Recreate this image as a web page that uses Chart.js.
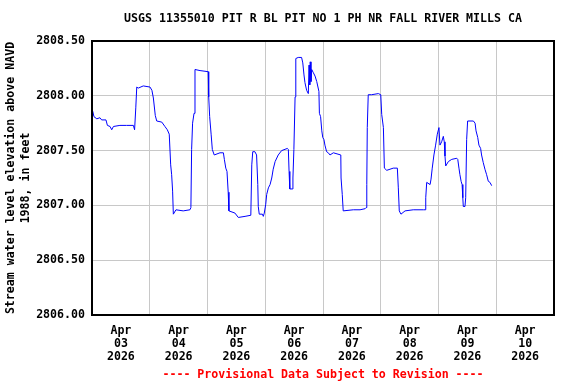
<!DOCTYPE html>
<html>
<head>
<meta charset="utf-8">
<script src="https://cdn.jsdelivr.net/npm/chart.js@4.4.1/dist/chart.umd.min.js"></script>
<style>
  body { margin: 0; background: #fff; }
  canvas { display: block; }
</style>
</head>
<body>
<canvas id="grafico" width="576" height="384"></canvas>
<script>
// Dados (horas desde 03/abr 00:00, nível em pés)
const horas = [
  0.3, 0.8, 2.0, 3.3, 4.0, 5.8, 6.4, 7.5, 8.2, 8.9, 11.6, 14.4, 17.2, 17.7, 18.2, 18.6, 19.2, 21.3, 24.1, 24.9,
  25.5, 26.3, 26.9, 29.0, 30.3, 31.3, 32.1, 32.7, 33.1, 33.5, 33.8, 34.9, 37.9, 40.7, 41.1, 41.4, 41.8, 42.4, 42.8, 44.9,
  48.3, 48.5, 48.9, 49.5, 50.0, 50.8, 53.2, 54.6, 55.0, 55.6, 56.1, 56.6, 56.9, 59.4, 60.8, 63.6, 66.0, 66.4, 66.8, 67.7,
  68.4, 68.9, 69.1, 69.5, 70.8, 71.2, 71.6, 72.2, 72.6, 73.3, 74.0, 74.7, 75.3, 76.1, 77.4, 78.8, 81.2, 81.6, 81.9, 82.2,
  83.2, 83.5, 83.9, 84.4, 84.7, 85.7, 87.1, 87.6, 88.1, 88.5, 89.2, 89.9, 90.2, 90.5, 90.7, 91.0, 91.3, 92.0, 92.7, 93.4,
  94.3, 94.5, 95.0, 95.5, 95.9, 96.4, 96.8, 97.5, 98.2, 98.9, 100.3, 103.4, 103.5, 104.0, 104.4, 108.6, 111.4, 113.5, 113.9, 114.2,
  114.4, 114.8, 116.2, 119.0, 120.0, 120.4, 121.1, 121.5, 122.5, 125.2, 126.9, 127.3, 127.7, 128.4, 130.1, 133.5, 137.7, 138.4, 138.7, 139.1,
  140.5, 140.9, 141.4, 142.1, 142.8, 143.5, 144.2, 144.6, 145.3, 146.0, 146.4, 146.7, 147.0, 148.1, 149.5, 151.6, 152.0, 152.5, 152.9, 153.4,
  153.8, 154.1, 154.3, 155.0, 155.3, 155.7, 156.1, 158.5, 159.2, 159.6, 160.3, 160.8, 161.5, 161.9, 162.6, 163.3, 164.0, 164.7, 165.4, 166.1
];
const niveis = [
  2807.86, 2807.81, 2807.79, 2807.80, 2807.78, 2807.78, 2807.73, 2807.72, 2807.69, 2807.72, 2807.73, 2807.73, 2807.73, 2807.69, 2807.89, 2808.08, 2808.07, 2808.09, 2808.08, 2808.05,
  2807.98, 2807.82, 2807.77, 2807.76, 2807.72, 2807.69, 2807.65, 2807.37, 2807.28, 2807.13, 2806.92, 2806.96, 2806.95, 2806.96, 2806.98, 2807.51, 2807.75, 2807.84, 2808.24, 2808.23,
  2808.22, 2807.99, 2807.81, 2807.65, 2807.51, 2807.46, 2807.48, 2807.48, 2807.42, 2807.34, 2807.31, 2807.12, 2806.95, 2806.93, 2806.89, 2806.90, 2806.91, 2807.37, 2807.49, 2807.49,
  2807.46, 2807.19, 2806.99, 2806.92, 2806.92, 2806.90, 2806.93, 2807.01, 2807.10, 2807.16, 2807.19, 2807.25, 2807.33, 2807.40, 2807.46, 2807.50, 2807.52, 2807.51, 2807.31, 2807.15,
  2807.15, 2807.25, 2807.51, 2807.99, 2808.34, 2808.35, 2808.35, 2808.30, 2808.19, 2808.12, 2808.05, 2808.02, 2808.28, 2808.10, 2808.31, 2808.13, 2808.24, 2808.21, 2808.18, 2808.13,
  2808.04, 2807.84, 2807.81, 2807.68, 2807.62, 2807.60, 2807.55, 2807.49, 2807.48, 2807.46, 2807.48, 2807.46, 2807.25, 2807.10, 2806.95, 2806.96, 2806.96, 2806.97, 2806.98, 2807.19,
  2807.71, 2808.01, 2808.01, 2808.02, 2808.01, 2807.83, 2807.71, 2807.34, 2807.32, 2807.34, 2807.34, 2807.16, 2806.95, 2806.92, 2806.95, 2806.96, 2806.96, 2806.96, 2807.07, 2807.21,
  2807.19, 2807.24, 2807.34, 2807.46, 2807.55, 2807.65, 2807.71, 2807.55, 2807.58, 2807.63, 2807.58, 2807.45, 2807.36, 2807.40, 2807.42, 2807.43, 2807.42, 2807.34, 2807.28, 2807.22,
  2807.19, 2807.07, 2806.99, 2806.99, 2807.07, 2807.60, 2807.77, 2807.77, 2807.75, 2807.68, 2807.62, 2807.55, 2807.52, 2807.46, 2807.39, 2807.33, 2807.28, 2807.22, 2807.21, 2807.18
];
const dias = ['03', '04', '05', '06', '07', '08', '09', '10'];
const ticksY = [2806.0, 2806.5, 2807.0, 2807.5, 2808.0, 2808.5];

const fonte = 'DejaVu Sans Mono';

// Moldura preta em volta da área do gráfico
const moldura = {
    id: 'moldura',
    afterDraw(chart) {
        const { ctx, chartArea: a } = chart;
        ctx.save();
        ctx.strokeStyle = '#000';
        ctx.lineWidth = 2;
        ctx.strokeRect(a.left, a.top, a.right - a.left, a.bottom - a.top);
        ctx.restore();
    }
};

const pontos = horas.map((h, i) => ({ x: h, y: niveis[i] }));

new Chart(document.getElementById('grafico').getContext('2d'), {
    type: 'line',
    data: {
        datasets: [{
            data: pontos,
            borderColor: '#0000ff',
            borderWidth: 1,
            pointRadius: 0,
            tension: 0,
            fill: false
        }]
    },
    options: {
        responsive: false,
        animation: false,
        layout: { padding: { left: 0, right: 22, top: 0, bottom: 0 } },
        plugins: {
            legend: { display: false },
            tooltip: { enabled: false },
            title: {
                display: true,
                fullSize: false,
                text: 'USGS 11355010 PIT R BL PIT NO 1 PH NR FALL RIVER MILLS CA',
                color: '#000',
                font: { family: fonte, size: 11.6, weight: 'bold', lineHeight: '14px' },
                padding: { top: 12, bottom: 15 },
                align: 'center'
            },
            subtitle: {
                display: true,
                fullSize: false,
                position: 'bottom',
                text: '---- Provisional Data Subject to Revision ----',
                color: '#ff0000',
                font: { family: fonte, size: 11.6, weight: 'bold', lineHeight: '14px' },
                padding: { top: 4, bottom: 2 }
            }
        },
        scales: {
            x: {
                type: 'linear',
                min: 0,
                max: 192,
                afterFit: function(scale) { scale.height = 49; },
                afterBuildTicks: function(scale) {
                    const t = [];
                    for (let h = 0; h <= 192; h += 12) t.push({ value: h });
                    scale.ticks = t;
                },
                ticks: {
                    autoSkip: false,
                    maxRotation: 0,
                    padding: 10,
                    color: '#000',
                    font: { family: fonte, size: 11.6, weight: 'bold', lineHeight: '12.8px' },
                    callback: function(value) {
                        if (value % 24 === 12) {
                            return ['Apr', dias[(value - 12) / 24], '2026'];
                        }
                        return '';
                    }
                },
                grid: {
                    drawTicks: false,
                    lineWidth: 1,
                    color: function(c) {
                        const v = c.tick ? c.tick.value : 0;
                        return (v % 24 === 0 && v > 0 && v < 192) ? '#c8c8c8' : 'rgba(0,0,0,0)';
                    }
                },
                border: { display: false }
            },
            y: {
                min: 2806.0,
                max: 2808.5,
                afterFit: function(scale) { scale.width = 92; },
                afterBuildTicks: function(scale) {
                    scale.ticks = ticksY.map(v => ({ value: v }));
                },
                ticks: {
                    padding: 7,
                    color: '#000',
                    font: { family: fonte, size: 11.6, weight: 'bold' },
                    callback: function(value) { return value.toFixed(2); }
                },
                grid: {
                    drawTicks: false,
                    lineWidth: 1,
                    color: function(c) {
                        const v = c.tick ? c.tick.value : 0;
                        return (v > 2806.0 && v < 2808.5) ? '#c8c8c8' : 'rgba(0,0,0,0)';
                    }
                },
                border: { display: false },
                title: {
                    display: true,
                    text: ['Stream water level elevation above NAVD', '1988, in feet'],
                    color: '#000',
                    font: { family: fonte, size: 11.6, weight: 'bold', lineHeight: '15px' },
                    padding: { top: 3.5, bottom: 0 }
                }
            }
        }
    },
    plugins: [moldura]
});
</script>
</body>
</html>
